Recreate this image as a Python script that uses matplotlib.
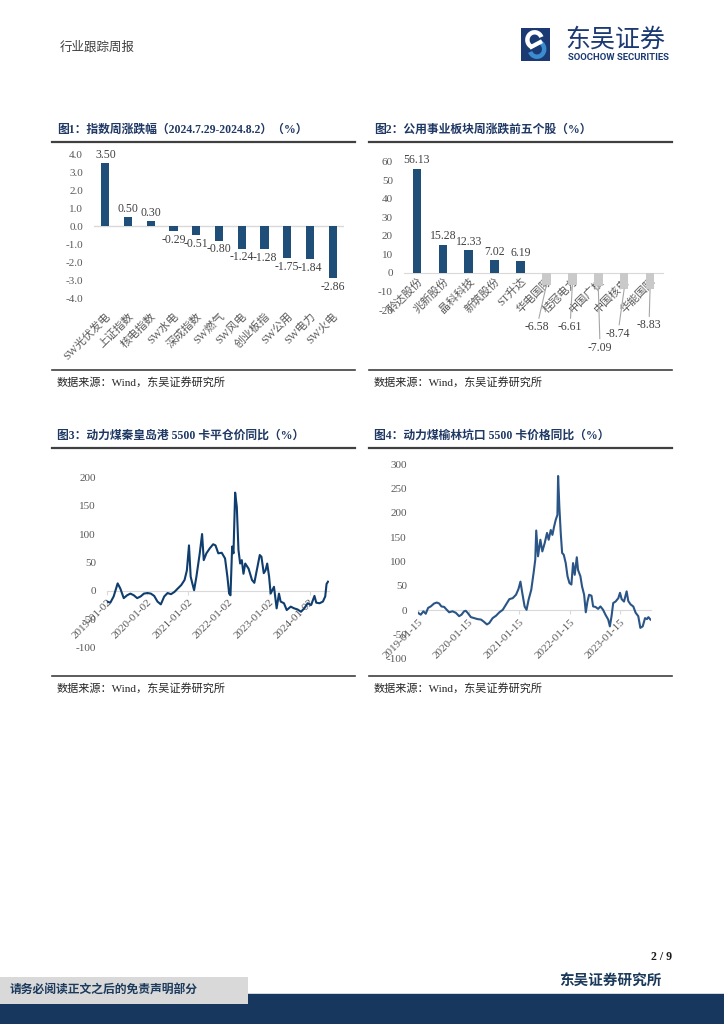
import numpy as np
import pandas as pd
import matplotlib
matplotlib.use("Agg")
import matplotlib.pyplot as plt
import matplotlib.dates as mdates
from matplotlib.lines import Line2D
from matplotlib.patches import Rectangle, Arc

# ---- data ----
f1_names = ["SW光伏发电", "上证指数", "核电指数", "SW水电", "深成指数", "SW燃气",
            "SW风电", "创业板指", "SW公用", "SW电力", "SW火电"]
f1_vals = [3.50, 0.50, 0.30, -0.29, -0.51, -0.80, -1.24, -1.28, -1.75, -1.84, -2.86]

f2_names = ["聆达股份", "兆新股份", "晶科科技", "新筑股份", "ST升达",
            "华电国际", "桂冠电力", "中国广核", "中国核电", "华能国际"]
f2_vals = [56.13, 15.28, 12.33, 7.02, 6.19, -6.58, -6.61, -7.09, -8.74, -8.83]
# where the labels of the falling stocks sit (x index, y value)
f2_neg_lab_x = [4.63, 5.91, 7.07, 7.76, 8.96]
f2_neg_lab_y = [-26.0, -26.0, -37.0, -29.5, -25.0]

f3_dates = ["2019-01-02", "2019-02-01", "2019-03-03", "2019-04-08", "2019-05-02", "2019-06-02",
            "2019-07-02", "2019-08-01", "2019-09-01", "2019-10-01", "2019-11-01", "2019-12-01",
            "2020-01-02", "2020-02-01", "2020-03-02", "2020-04-01", "2020-05-01", "2020-06-01",
            "2020-07-01", "2020-08-01", "2020-09-01", "2020-10-01", "2020-11-01", "2020-12-01",
            "2020-12-22", "2021-01-10", "2021-01-25", "2021-02-09", "2021-02-25", "2021-03-18",
            "2021-04-17", "2021-05-08", "2021-05-23", "2021-06-16", "2021-07-17", "2021-08-16",
            "2021-09-06", "2021-10-01", "2021-11-01", "2021-12-01", "2021-12-22", "2022-01-07",
            "2022-01-19", "2022-02-03", "2022-02-15", "2022-03-02", "2022-03-17", "2022-04-01",
            "2022-04-16", "2022-05-01", "2022-05-16", "2022-06-01", "2022-07-01", "2022-08-01",
            "2022-08-22", "2022-09-16", "2022-10-10", "2022-10-25", "2022-11-15", "2022-12-01",
            "2022-12-16", "2023-01-02", "2023-01-16", "2023-02-15", "2023-03-11", "2023-04-01",
            "2023-04-16", "2023-05-16", "2023-06-10", "2023-07-16", "2023-08-16", "2023-09-16",
            "2023-10-16", "2023-11-15", "2023-12-16", "2024-01-16", "2024-02-15", "2024-03-02",
            "2024-04-01", "2024-05-01", "2024-05-22", "2024-06-03", "2024-06-16"]
f3_vals = [-19, -21, -10, 13, 4, -13,
           -8, -5, -8, -13, -10, -5,
           -4, -5, -9, -19, -24, -10,
           -4, -6, -2, 4, 10, 19,
           36, 80, 25, 13, 1, 25,
           66, 100, 54, 66, 75, 82,
           80, 66, 67, 57, 25, -5,
           -8, 78, 66, 173, 148, 72,
           48, 54, 30, 48, 39, 19,
           14, 39, 63, 60, 31, 36,
           48, 25, -5, 7, -31, -5,
           -19, -22, -34, -28, -31, -33,
           -37, -31, -22, -25, -9, -21,
           -22, -19, -10, 12, 16]
f3_ticks = ["2019-01-02", "2020-01-02", "2021-01-02", "2022-01-02", "2023-01-02", "2024-01-02"]

f4_dates = ["2019-01-15", "2019-02-04", "2019-02-23", "2019-03-12", "2019-03-29", "2019-04-17",
            "2019-05-11", "2019-05-31", "2019-06-17", "2019-07-03", "2019-07-23", "2019-08-11",
            "2019-08-28", "2019-09-21", "2019-10-15", "2019-11-08", "2019-11-25", "2019-12-14",
            "2019-12-26", "2020-01-08", "2020-02-01", "2020-02-25", "2020-03-20", "2020-04-14",
            "2020-05-03", "2020-05-27", "2020-06-13", "2020-07-07", "2020-08-01", "2020-08-25",
            "2020-09-18", "2020-10-12", "2020-11-05", "2020-11-29", "2020-12-23", "2021-01-10",
            "2021-01-24", "2021-02-06", "2021-02-23", "2021-03-09", "2021-03-24", "2021-04-12",
            "2021-04-29", "2021-05-11", "2021-05-18", "2021-05-31", "2021-06-17", "2021-07-01",
            "2021-07-18", "2021-08-04", "2021-08-16", "2021-08-31", "2021-09-12", "2021-09-24",
            "2021-10-06", "2021-10-18", "2021-10-23", "2021-11-01", "2021-11-11", "2021-11-21",
            "2021-12-03", "2021-12-17", "2021-12-30", "2022-01-13", "2022-01-27", "2022-02-08",
            "2022-02-20", "2022-03-07", "2022-03-16", "2022-04-02", "2022-04-14", "2022-04-29",
            "2022-05-11", "2022-05-23", "2022-06-04", "2022-06-21", "2022-07-03", "2022-07-20",
            "2022-08-08", "2022-08-25", "2022-09-13", "2022-09-30", "2022-10-20", "2022-11-01",
            "2022-11-13", "2022-11-25", "2022-12-12", "2023-01-01", "2023-01-13", "2023-01-25",
            "2023-02-11", "2023-03-02", "2023-03-14", "2023-03-31", "2023-04-19", "2023-05-06",
            "2023-05-25", "2023-06-09", "2023-06-26", "2023-07-13", "2023-07-27", "2023-08-06",
            "2023-08-21"]
f4_vals = [-5, -9, -2, -7, 5, 8,
           14, 16, 14, 8, 7, 1,
           -4, -2, -5, -12, -9, -2,
           -1, -5, -14, -16, -18, -19,
           -23, -29, -26, -16, -11, -4,
           1, 12, 23, 25, 32, 44,
           59, 36, 8, 1, 22, 42,
           77, 104, 164, 111, 145, 121,
           138, 159, 145, 165, 155, 172,
           186, 196, 276, 213, 159, 118,
           114, 97, 70, 56, 53, 97,
           73, 109, 83, 70, 49, 32,
           -4, 18, 32, 30, 8, 7,
           3, 8, 1, -9, -19, -33,
           -12, 15, 18, 25, 36, 23,
           18, 39, 19, 12, 8, -5,
           -12, -36, -33, -16, -18, -14,
           -19]
f4_ticks = ["2019-01-15", "2020-01-15", "2021-01-15", "2022-01-15", "2023-01-15"]

# ---- style ----
W, H = 724, 1024
NAVY = "#1F4E79"
TITLE_C = "#1F3864"
TICK_C = "#595959"
FAM = ["Liberation Serif", "Noto Sans CJK SC", "DejaVu Sans"]
plt.rcParams["font.family"] = FAM
plt.rcParams["axes.unicode_minus"] = False


def fx(px):
    return px / W


def fy(py):
    return 1 - py / H


def hline(x0, x1, y, color, lw):
    fig.add_artist(Line2D([fx(x0), fx(x1)], [fy(y), fy(y)], transform=fig.transFigure,
                          color=color, lw=lw))


def axes_px(left, top, right, bottom):
    return fig.add_axes([fx(left), fy(bottom), fx(right) - fx(left), (bottom - top) / H])


def chart_frame(x0, x1, title, ytitle, yline, ybottom, ysource):
    fig.text(fx(x0 + 5), fy(ytitle), title, fontsize=8.5, fontweight="bold",
             color=TITLE_C, va="center", ha="left")
    hline(x0, x1, yline, "#404040", 1.6)
    hline(x0, x1, ybottom, "#404040", 1.2)
    fig.text(fx(x0 + 5), fy(ysource), "数据来源：Wind，东吴证券研究所", fontsize=8,
             color="#262626", va="center", ha="left")


def clean(ax):
    for s in ["top", "right", "left", "bottom"]:
        ax.spines[s].set_visible(False)
    ax.tick_params(axis="y", length=0, labelsize=8, labelcolor=TICK_C, pad=8)
    ax.set_facecolor("none")


fig = plt.figure(figsize=(W / 100, H / 100), dpi=100)

# ---- header ----
fig.text(fx(60), fy(47), "行业跟踪周报", fontsize=9, color="#404040", va="center")
lax = fig.add_axes([fx(521), fy(61), 29 / W, 33 / H])
lax.set_xlim(0, 1)
lax.set_ylim(0, 1)
lax.axis("off")
lax.add_patch(Rectangle((0, 0), 1, 1, color="#1B3A73"))
lax.add_patch(Arc((0.47, 0.64), 0.5, 0.46, theta1=20, theta2=250, color="white", lw=3.2))
lax.add_patch(Arc((0.55, 0.36), 0.5, 0.46, theta1=200, theta2=70, color="#3C8DD0", lw=3.2))
lax.plot([0.36, 0.66], [0.43, 0.57], color="white", lw=3.0)
fig.text(fx(565), fy(40), "东吴证券", fontsize=18, color="#1B3A73", va="center", ha="left",
         family=["Noto Sans CJK SC"])
fig.text(fx(568), fy(58), "SOOCHOW SECURITIES", fontsize=6.8, fontweight="bold",
         color="#1B3A73", va="center", ha="left", family=["Roboto", "DejaVu Sans"])

# ---- figure 1 ----
chart_frame(52, 355, "图1：指数周涨跌幅（2024.7.29-2024.8.2）（%）", 130, 141.5, 370, 382)
ax1 = axes_px(94, 154, 344, 298.5)
x1 = np.arange(len(f1_vals))
ax1.bar(x1, f1_vals, width=0.36, color=NAVY, zorder=3)
ax1.axhline(0, color="#D9D9D9", lw=1, zorder=2)
ax1.set_xlim(-0.5, len(f1_vals) - 0.5)
ax1.set_ylim(-4, 4)
ax1.set_yticks(np.arange(-4, 4.01, 1))
ax1.set_yticklabels([f"{v:.1f}" for v in np.arange(-4, 4.01, 1)])
clean(ax1)
ax1.set_xticks(x1)
ax1.set_xticklabels(f1_names, rotation=45, ha="right", rotation_mode="anchor",
                    fontsize=8, color=TICK_C)
ax1.tick_params(axis="x", length=0, pad=9)
for xi, v in zip(x1, f1_vals):
    ax1.text(xi, v + (0.12 if v >= 0 else -0.15), f"{v:.2f}", ha="center",
             va="bottom" if v >= 0 else "top", fontsize=8.5, color="#404040")

# ---- figure 2 ----
chart_frame(369, 672, "图2：公用事业板块周涨跌前五个股（%）", 130, 141.5, 370, 382)
ax2 = axes_px(404, 161.5, 663, 310)
x2 = np.arange(len(f2_vals))
cols2 = [NAVY if v >= 0 else "#C9C9C9" for v in f2_vals]
ax2.bar(x2, f2_vals, width=0.33, color=cols2, zorder=3)
ax2.set_xlim(-0.5, len(f2_vals) - 0.5)
ax2.set_ylim(-20, 60)
ax2.set_yticks(np.arange(-20, 61, 10))
clean(ax2)
ax2.spines["bottom"].set_visible(True)
ax2.spines["bottom"].set_position(("data", 0))
ax2.spines["bottom"].set_color("#D9D9D9")
ax2.set_xticks(x2)
ax2.set_xticklabels(f2_names, rotation=45, ha="right", rotation_mode="anchor",
                    fontsize=8, color=TICK_C)
ax2.tick_params(axis="x", length=0, pad=2)
neg_i = 0
for xi, v in zip(x2, f2_vals):
    if v >= 0:
        ax2.text(xi, v + 1.2, f"{v:.2f}", ha="center", va="bottom", fontsize=8.5, color="#404040")
    else:
        lx, ly = f2_neg_lab_x[neg_i], f2_neg_lab_y[neg_i]
        ax2.annotate(f"{v:.2f}", xy=(xi, v), xytext=(lx, ly), ha="center", va="top",
                     fontsize=8.5, color="#404040", annotation_clip=False,
                     arrowprops=dict(arrowstyle="-", color="#A6A6A6", lw=0.8,
                                     shrinkA=0, shrinkB=0))
        neg_i += 1


# ---- figures 3 and 4 ----
def line_chart(ax, dates, vals, ticks, color, ylo, yhi, xend):
    d = pd.to_datetime(dates)
    ax.plot(d, vals, color=color, lw=1.5, zorder=3)
    ax.set_xlim(d[0], pd.Timestamp(xend))
    ax.set_ylim(ylo, yhi)
    ax.set_yticks(np.arange(ylo, yhi + 1, 50))
    clean(ax)
    ax.spines["bottom"].set_visible(True)
    ax.spines["bottom"].set_position(("data", 0))
    ax.spines["bottom"].set_color("#D9D9D9")
    ax.set_xticks(pd.to_datetime(ticks))
    ax.xaxis.set_major_formatter(mdates.DateFormatter("%Y-%m-%d"))
    plt.setp(ax.get_xticklabels(), rotation=45, ha="right", rotation_mode="anchor",
             fontsize=8, color=TICK_C)
    ax.tick_params(axis="x", length=3, color="#D9D9D9", pad=2)


chart_frame(52, 355, "图3：动力煤秦皇岛港 5500 卡平仓价同比（%）", 436, 447.5, 676, 688)
ax3 = axes_px(107, 477.3, 329, 647.5)
line_chart(ax3, f3_dates, f3_vals, f3_ticks, "#0E3D6E", -100, 200, "2024-06-25")

chart_frame(369, 672, "图4：动力煤榆林坑口 5500 卡价格同比（%）", 436, 447.5, 676, 688)
ax4 = axes_px(418, 464.3, 651, 659)
line_chart(ax4, f4_dates, f4_vals, f4_ticks, "#2A5586", -100, 300, "2023-08-25")

# ---- footer ----
fig.text(fx(672), fy(957), "2 / 9", fontsize=8.5, fontweight="bold", ha="right", va="center",
         color="#1a1a1a")
fig.text(fx(662), fy(982), "东吴证券研究所", fontsize=10.5, fontweight="bold", ha="right",
         va="center", color="#1B3A5C")
fig.add_artist(Rectangle((0, 0), 1, fy(994), transform=fig.transFigure, color="#17375E"))
fig.add_artist(Rectangle((0, fy(1004)), fx(248), (1004 - 977) / H, transform=fig.transFigure,
                         facecolor="#D9D9D9", edgecolor="none"))
fig.text(fx(10), fy(991), "请务必阅读正文之后的免责声明部分", fontsize=8.5, fontweight="bold",
         ha="left", va="center", color="#1B3A5C")

fig.savefig("out.png", dpi=100)
